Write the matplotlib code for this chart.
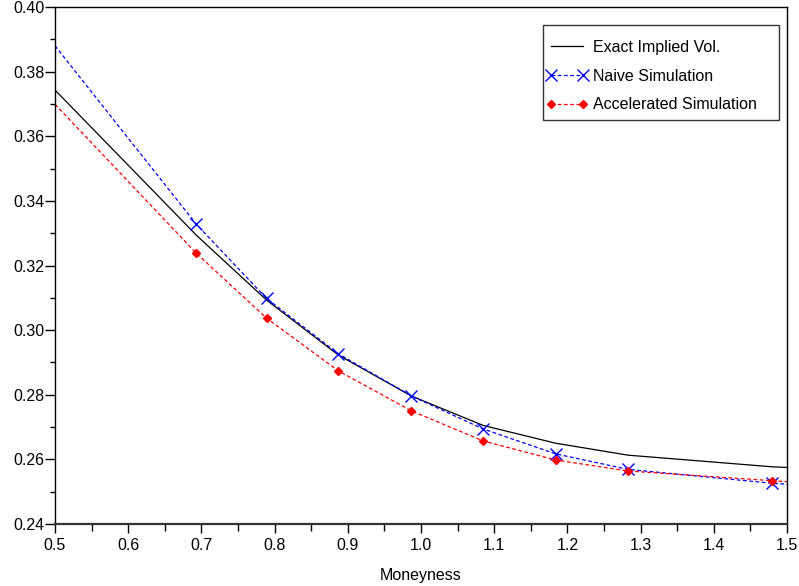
#!/usr/bin/env python3
"""Implied volatility smile: exact vs naive vs accelerated simulation."""

import matplotlib
matplotlib.use('Agg')
import matplotlib.pyplot as plt
from matplotlib.patches import Rectangle
from matplotlib.ticker import MultipleLocator, FormatStrFormatter

plt.rcParams['font.family'] = ['Liberation Sans', 'DejaVu Sans']

# Moneyness grid (first/last points sit on the axis edges, no marker there)
moneyness = [0.5, 0.693, 0.789, 0.887, 0.987, 1.085, 1.184, 1.283, 1.480, 1.5]

exact_vol = [0.3743, 0.3294, 0.3093, 0.2923, 0.2796, 0.2705, 0.2650, 0.2613, 0.2577, 0.2575]
naive_vol = [0.3880, 0.3328, 0.3098, 0.2927, 0.2796, 0.2694, 0.2617, 0.2569, 0.2526, 0.2523]
accel_vol = [0.3699, 0.3238, 0.3037, 0.2874, 0.2750, 0.2657, 0.2598, 0.2564, 0.2534, 0.2531]

marker_idx = list(range(1, len(moneyness) - 1))

W, H = 799, 586
fig = plt.figure(figsize=(W / 100, H / 100), dpi=100)
ax = fig.add_axes([55 / W, 1 - 524 / H, 732 / W, 517 / H])

ax.plot(moneyness, exact_vol, color='black', linewidth=0.9, label='Exact Implied Vol.')
ax.plot(moneyness, naive_vol, color='blue', linewidth=0.9, linestyle=(0, (3, 2)),
        marker='x', markersize=8, markeredgewidth=1.0, markevery=marker_idx,
        label='Naive Simulation')
ax.plot(moneyness, accel_vol, color='red', linewidth=0.9, linestyle=(0, (3, 2)),
        marker='D', markersize=4.5, markevery=marker_idx,
        label='Accelerated Simulation')

ax.set_xlim(0.5, 1.5)
ax.set_ylim(0.24, 0.40)

ax.xaxis.set_major_locator(MultipleLocator(0.1))
ax.xaxis.set_minor_locator(MultipleLocator(0.05))
ax.yaxis.set_major_locator(MultipleLocator(0.02))
ax.yaxis.set_minor_locator(MultipleLocator(0.01))
ax.xaxis.set_major_formatter(FormatStrFormatter('%.1f'))
ax.yaxis.set_major_formatter(FormatStrFormatter('%.2f'))

ax.tick_params(which='both', direction='out', width=1, top=False, right=False,
               labelsize=11.5)
ax.tick_params(axis='x', which='major', length=6.5, pad=3.5)
ax.tick_params(axis='x', which='minor', length=5)
ax.tick_params(axis='y', which='major', length=7, pad=0.5)
ax.tick_params(axis='y', which='minor', length=3.6)

for side in ['left', 'bottom', 'top', 'right']:
    ax.spines[side].set_linewidth(1.0)
ax.spines['bottom'].set_linewidth(1.6)
ax.spines['bottom'].set_color('#333333')

ax.set_xlabel('Moneyness', fontsize=11.5, labelpad=11)

# legend frame drawn separately so the padding can differ per side
ax.add_patch(Rectangle((543 / W, 1 - 120 / H), 236 / W, 95 / H,
                       transform=fig.transFigure, facecolor='white',
                       edgecolor='#333333', linewidth=1.0, zorder=5,
                       clip_on=False))
leg = ax.legend(loc='upper left', bbox_to_anchor=(546 / W, 1 - 40 / H),
                bbox_transform=fig.transFigure, numpoints=2, fontsize=11.5,
                frameon=False, borderpad=0, borderaxespad=0,
                handlelength=2.6, handletextpad=0.35, labelspacing=0.86)
leg.set_zorder(6)

plt.savefig('out.png', dpi=100)
plt.close()
